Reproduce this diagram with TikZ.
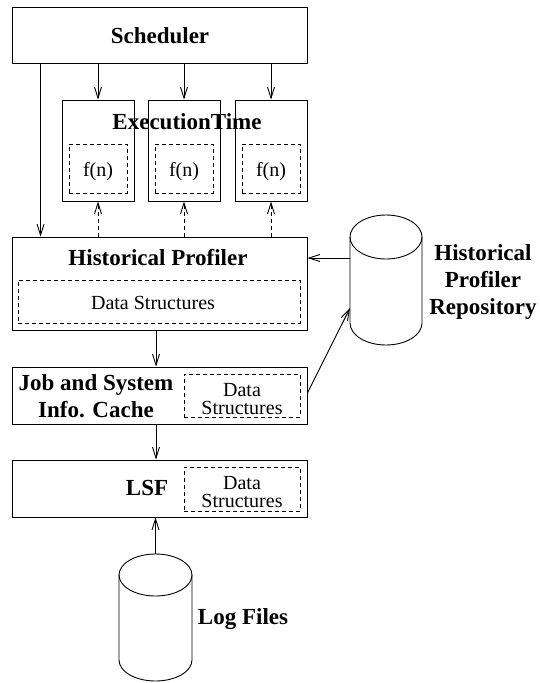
\documentclass[tikz,border=0pt]{standalone}
\usepackage{fontspec}
\setmainfont{Liberation Serif}
\usetikzlibrary{arrows.meta,calc}

\tikzset{
  line/.style={line width=0.9pt},
  solidbox/.style={draw, line, inner sep=0pt},
  dashbox/.style={draw, line width=0.9pt, dash pattern=on 4pt off 3pt, inner sep=0pt},
  arr/.style={line, -{Straight Barb[length=11pt, width=7pt, line width=0.9pt]}},
  darr/.style={arr, dash pattern=on 4pt off 3pt},
  title/.style={font=\bfseries\fontsize{23}{27}\selectfont, align=center, inner sep=0pt},
  body/.style={font=\fontsize{20}{17.5}\selectfont, align=center, inner sep=0pt},
}

\begin{document}
\begin{tikzpicture}[x=1pt, y=-1pt]
\useasboundingbox (0,0) rectangle (539,683);

% Scheduler
\node[solidbox, minimum width=295pt, minimum height=56pt] (sched) at (159.5,35) {};
\node[title] (schedtxt) at (160,36) {Scheduler};

% Execution time boxes with their f(n) parts
\foreach \i/\x in {1/98, 2/184, 3/271} {
  \node[solidbox, minimum width=72pt, minimum height=101pt] (et\i) at (\x,150.5) {};
  \node[dashbox, minimum width=58pt, minimum height=49pt] (fn\i) at (\x,168.5) {};
  \node[body] (fntxt\i) at (\x,172) {f(n)};
}
\node[title] (ettxt) at (187,122) {ExecutionTime};

% Historical profiler
\node[solidbox, minimum width=295pt, minimum height=93pt] (hp) at (159.5,283.5) {};
\node[title] (hptxt) at (158,258) {Historical Profiler};
\node[dashbox, minimum width=282pt, minimum height=43pt] (hpds) at (159,301.5) {};
\node[body] (hpdstxt) at (153,303) {Data Structures};

% Job and system info cache
\node[solidbox, minimum width=295pt, minimum height=57pt] (jsic) at (159.5,395.5) {};
\node[title] (jsictxt) at (96,396) {Job and System\\Info. Cache};
\node[dashbox, minimum width=116pt, minimum height=43pt] (jsicds) at (242,395.5) {};
\node[body] (jsicdstxt) at (242,399) {Data\\Structures};

% LSF
\node[solidbox, minimum width=295pt, minimum height=57pt] (lsf) at (159.5,488.5) {};
\node[title] (lsftxt) at (147,488) {LSF};
\node[dashbox, minimum width=116pt, minimum height=44pt] (lsfds) at (242,489) {};
\node[body] (lsfdstxt) at (242,492) {Data\\Structures};

% Historical profiler repository (cylinder)
\draw[line] (386,237) ellipse[x radius=36pt, y radius=22pt];
\draw[line] (350,237) -- (350,323)
  arc[start angle=180, end angle=360, x radius=36pt, y radius=22pt] -- (422,237);
\coordinate (hprA) at (350,258);
\coordinate (hprB) at (350,308);
\node[title] (hprtxt) at (483,282) {Historical\\Profiler\\Repository};

% Log files (cylinder)
\draw[line] (155.5,575) ellipse[x radius=36.5pt, y radius=21pt];
\draw[line] (119,575) -- (119,660)
  arc[start angle=180, end angle=360, x radius=36.5pt, y radius=21pt] -- (192,575);
\coordinate (lftop) at (155.5,554);
\node[title] (lftxt) at (243,619) {Log Files};

% Scheduler to execution time boxes and profiler
\foreach \i in {1,2,3} {
  \draw[arr] (sched.south -| et\i.north) -- (et\i.north);
  \draw[darr] (hp.north -| et\i.south) -- (et\i.south);
}
\draw[arr] ([xshift=29pt]sched.south west) -- ([xshift=29pt]hp.north west);

% Vertical chain
\draw[arr] ([xshift=-3.5pt]hp.south) -- ([xshift=-3.5pt]jsic.north);
\draw[arr] ([xshift=-3.5pt]jsic.south) -- ([xshift=-3.5pt]lsf.north);
\draw[arr] (lftop) -- (lftop |- lsf.south);

% Repository links
\draw[arr] (hprA) -- (hprA -| hp.east);
\draw[arr] ([yshift=2.5pt]jsic.east) -- (hprB);
\end{tikzpicture}
\end{document}
